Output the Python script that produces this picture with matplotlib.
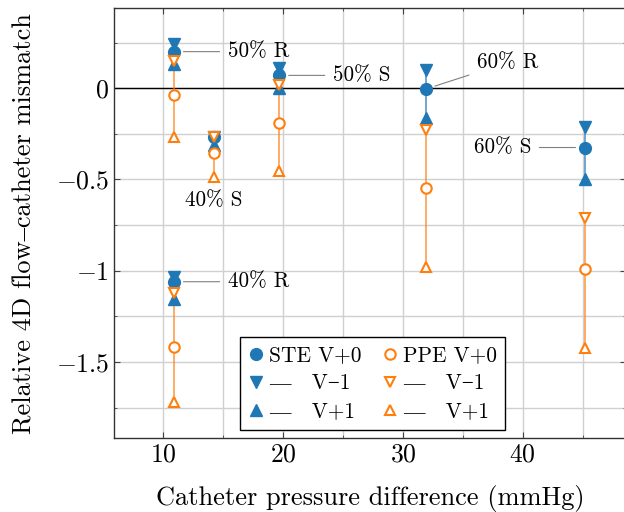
import numpy as np
import matplotlib
matplotlib.use("Agg")
import matplotlib.pyplot as plt
from matplotlib.ticker import MultipleLocator, FuncFormatter

plt.rcParams['font.family'] = ['cmr10', 'Liberation Serif', 'DejaVu Serif']
plt.rcParams['mathtext.fontset'] = 'cm'
plt.rcParams['axes.formatter.use_mathtext'] = True
plt.rcParams['axes.unicode_minus'] = True

# ==============================
# DATA
# ==============================
labels = ["50% R", "40% R", "40% S", "50% S", "60% R", "60% S"]
pressure = [10.9, 10.9, 14.25, 19.67, 31.9, 45.2]

ste_v0 = [0.20, -1.06, -0.27, 0.07, -0.005, -0.325]
ste_vm1 = [0.24, -1.035, -0.265, 0.11, 0.10, -0.215]
ste_vp1 = [0.135, -1.155, -0.31, 0.0, -0.165, -0.50]

ppe_v0 = [-0.04, -1.415, -0.355, -0.19, -0.545, -0.99]
ppe_vm1 = [0.15, -1.12, -0.27, 0.015, -0.23, -0.71]
ppe_vp1 = [-0.27, -1.72, -0.485, -0.455, -0.98, -1.425]

# label offsets (points) and alignment for the annotations
label_offsets = [(39, 0), (39, 0), (0, -45), (39, 0), (37, 19), (-39, 0)]
label_align = ["left", "left", "center", "left", "left", "right"]
label_line = [True, True, False, True, True, True]

blue = "#1f77b4"
orange = "#ff7f0e"

fig = plt.figure(figsize=(6.24, 5.12), dpi=100)
ax = fig.add_axes([0.1827, 0.1445, 0.8205, 0.8395])

# ==============================
# RANGES (V-1 .. V+1)
# ==============================
ax.vlines(pressure, ste_vp1, ste_vm1, color=blue, lw=1.2, alpha=0.75, zorder=2)
ax.vlines(pressure, ppe_vp1, ppe_vm1, color=orange, lw=1.2, alpha=0.75, zorder=2)

# ==============================
# MARKERS
# ==============================
ax.plot(pressure, ste_v0, ls="none", marker="o", ms=8.5, color=blue,
        label="STE V+0", zorder=3)
ax.plot(pressure, ste_vm1, ls="none", marker="v", ms=9, color=blue,
        label="\u2014   V\u22121", zorder=3)
ax.plot(pressure, ste_vp1, ls="none", marker="^", ms=9, color=blue,
        label="\u2014   V+1", zorder=3)

ax.plot(pressure, ppe_v0, ls="none", marker="o", ms=7.5, mew=1.5, color=orange,
        mfc="white", label="PPE V+0", zorder=4)
ax.plot(pressure, ppe_vm1, ls="none", marker="v", ms=7.5, mew=1.5, color=orange,
        mfc="white", label="\u2014   V\u22121", zorder=4)
ax.plot(pressure, ppe_vp1, ls="none", marker="^", ms=7.5, mew=1.5, color=orange,
        mfc="white", label="\u2014   V+1", zorder=4)

ax.axhline(0, color="black", lw=1.0, zorder=1.5)

# ==============================
# ANNOTATIONS
# ==============================
for i, name in enumerate(labels):
    dx, dy = label_offsets[i]
    ha = label_align[i]
    props = None
    if label_line[i]:
        rx = 0.0 if ha == "left" else 1.0
        ry = 0.0 if dy > 0 else 0.5
        props = dict(arrowstyle="-", color="gray", lw=0.8,
                     shrinkA=4, shrinkB=7, relpos=(rx, ry))
    ax.annotate(name, xy=(pressure[i], ste_v0[i]), xytext=(dx, dy),
                textcoords="offset points", ha=ha, va="center",
                fontsize=15.2, arrowprops=props, zorder=5)

# ==============================
# AXES
# ==============================
ax.set_xlim(5.92, 48.6)
ax.set_ylim(-1.916, 0.438)
ax.xaxis.set_major_locator(MultipleLocator(10))
ax.xaxis.set_minor_locator(MultipleLocator(5))
ax.yaxis.set_major_locator(MultipleLocator(0.5))
ax.yaxis.set_minor_locator(MultipleLocator(0.25))
ax.yaxis.set_major_formatter(FuncFormatter(lambda v, pos: f"${v:g}$"))
ax.grid(True, which="both", color="#d0d0d0", lw=1.0, zorder=0)
ax.set_axisbelow(True)
ax.tick_params(which="both", direction="in", top=True, right=True,
               labelsize=18.5, color="#444444")
ax.tick_params(which="major", length=4)
ax.tick_params(which="minor", length=2.5)
for s in ax.spines.values():
    s.set_color("#333333")
    s.set_linewidth(1.0)

ax.set_xlabel("Catheter pressure difference (mmHg)", fontsize=19, labelpad=13)
ax.set_ylabel("Relative 4D flow\u2013catheter mismatch", fontsize=19, labelpad=14)

leg = ax.legend(ncol=2, loc="lower left", bbox_to_anchor=(0.2456, 0.0186),
                borderaxespad=0, fontsize=15.4, handlelength=0.7,
                handletextpad=0.25, columnspacing=1.0, labelspacing=0.4,
                borderpad=0.4, fancybox=False, framealpha=1.0,
                edgecolor="black")
leg.get_frame().set_linewidth(1.0)

fig.savefig("out.png", dpi=100)
